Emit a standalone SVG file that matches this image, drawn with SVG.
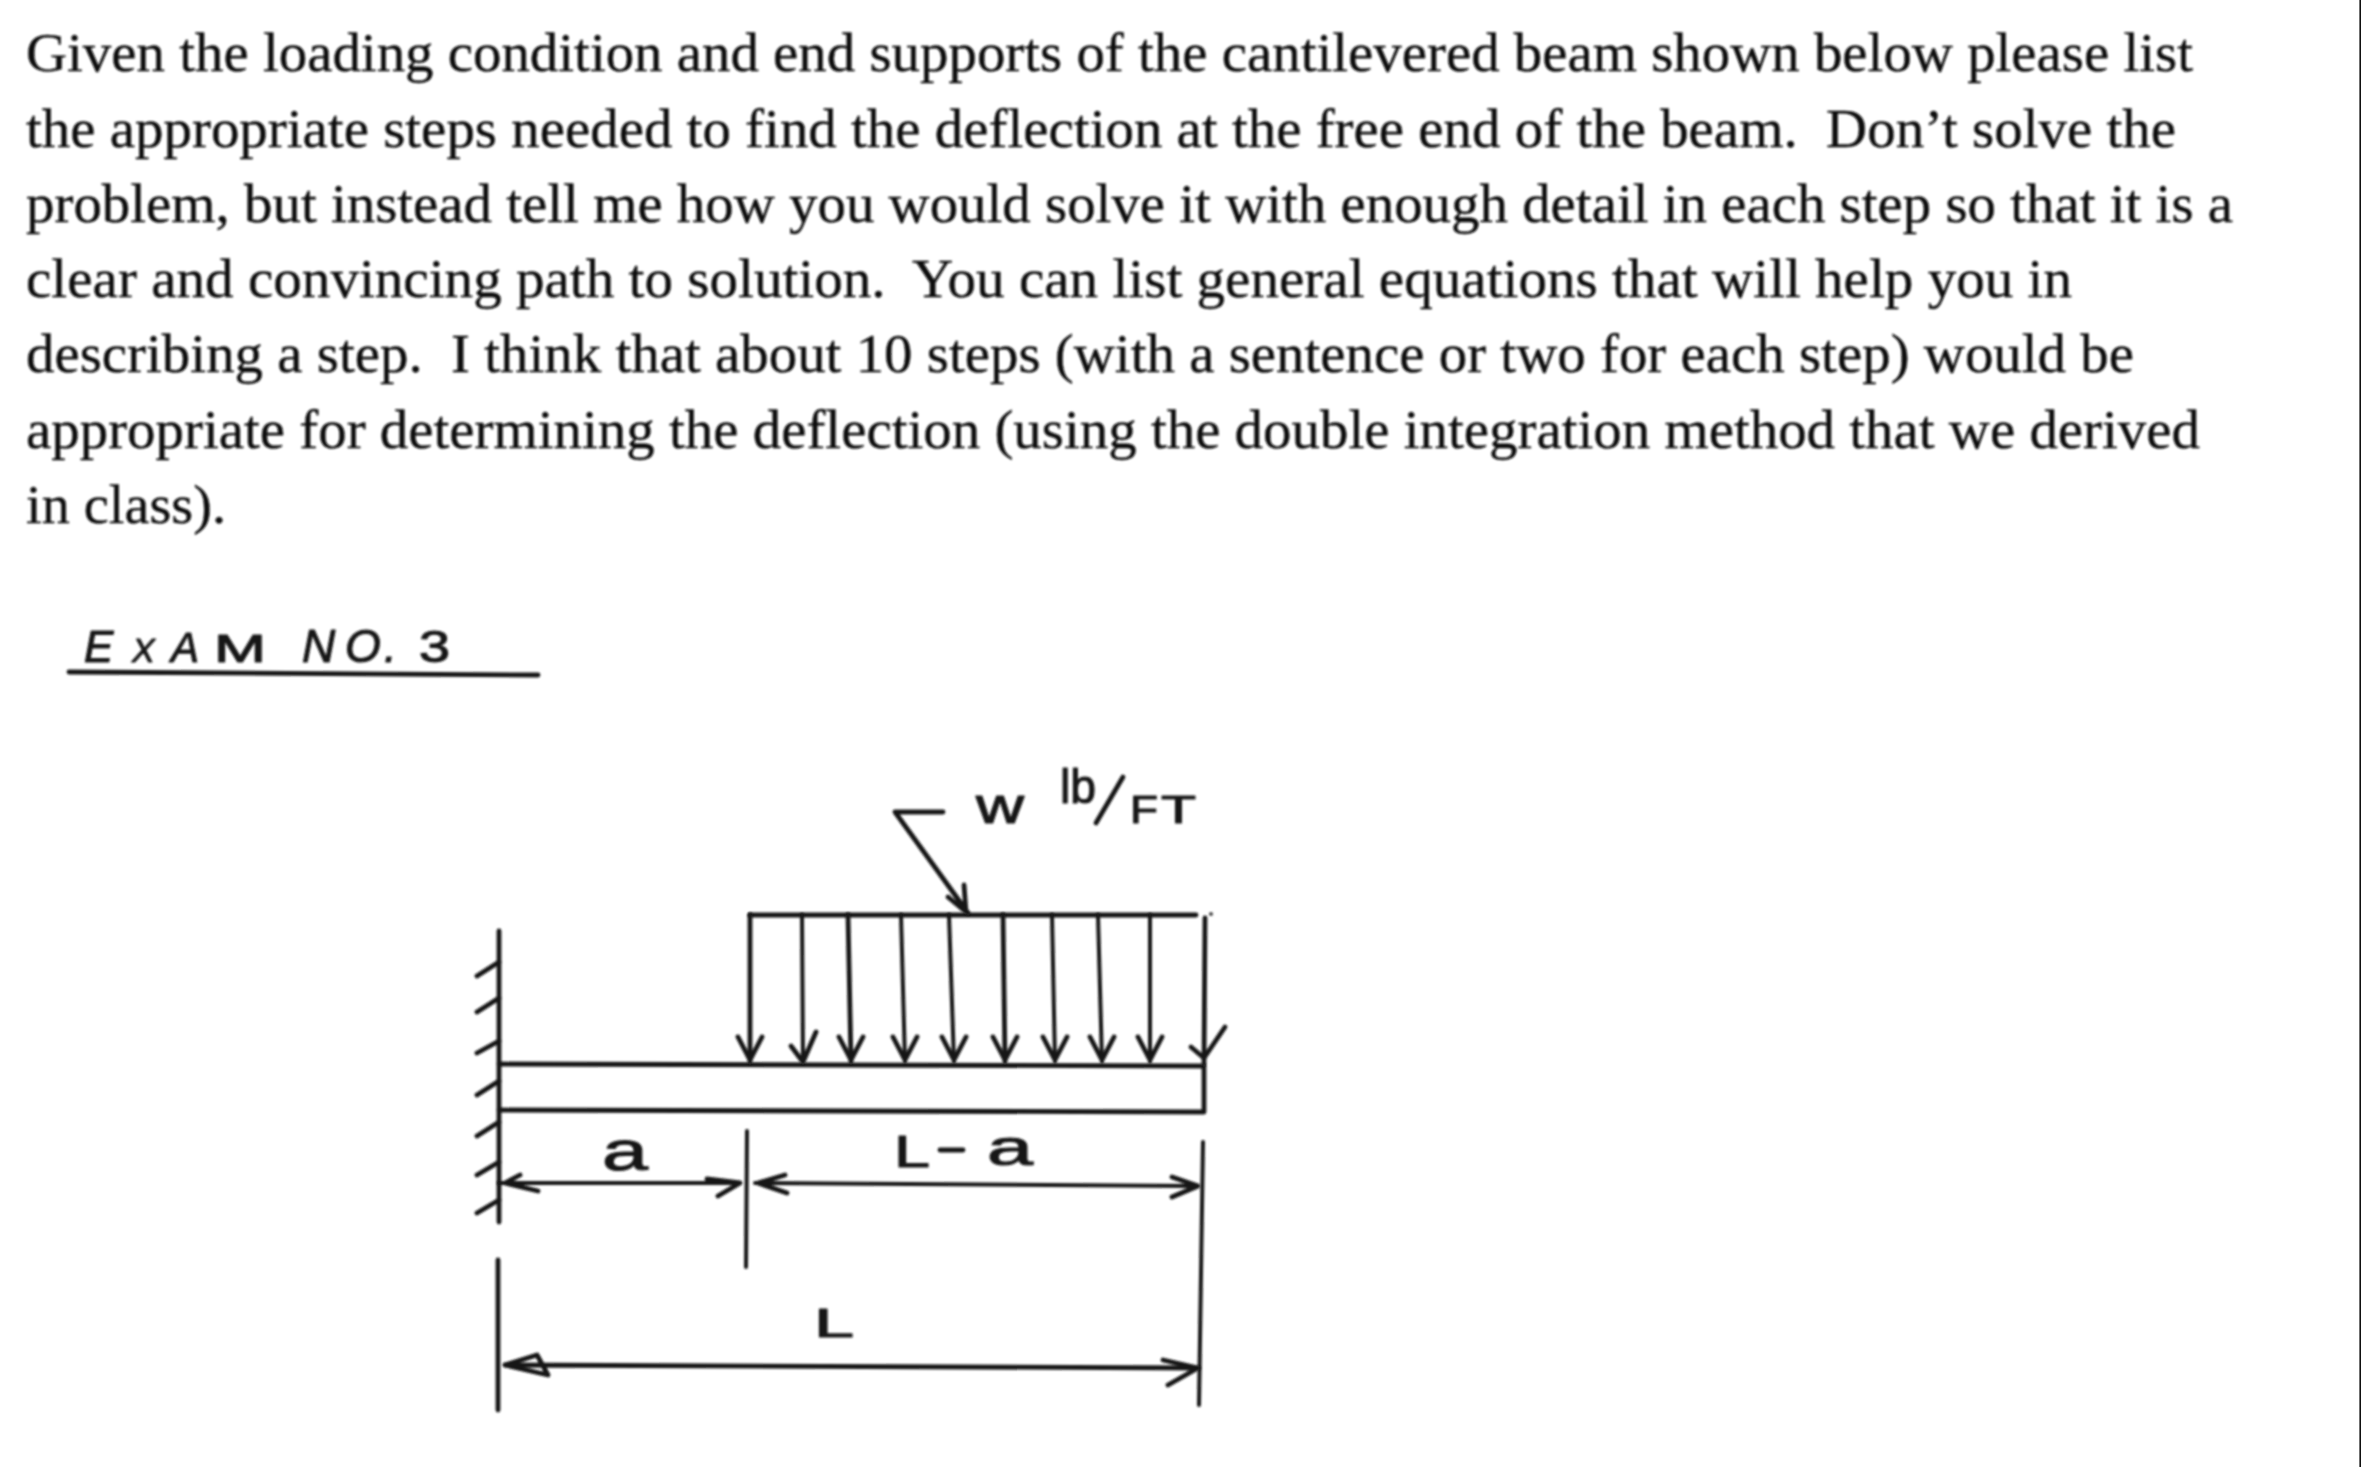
<svg xmlns="http://www.w3.org/2000/svg" width="2361" height="1467" viewBox="0 0 2361 1467">
<style>
.body{font-family:"Liberation Serif","Times New Roman",serif;font-size:55px;fill:#0e0e0e;stroke:#0e0e0e;stroke-width:.35;white-space:pre}
.hand{font-family:"Liberation Sans",Arial,sans-serif;fill:#161616;stroke:#161616;stroke-width:1.1;stroke-linejoin:round}
.ln{fill:none;stroke:#161616;stroke-width:4.8;stroke-linecap:round;stroke-linejoin:round}
.thin{stroke-width:4}
</style>
<defs>
<filter id="soft" x="-2%" y="-2%" width="104%" height="104%"><feGaussianBlur stdDeviation="0.9"/></filter>
<path id="ah" class="ln" d="M-12,-25 L0,-2 L12,-25"/>
</defs>
<rect width="2361" height="1467" fill="#ffffff"/>
<rect id="right-edge" x="2359.4" y="0" width="1.6" height="1467" fill="#111111"/>
<g filter="url(#soft)">
<g id="question">
<text class="body" x="26" y="71" textLength="2167" lengthAdjust="spacingAndGlyphs">Given the loading condition and end supports of the cantilevered beam shown below please list</text>
<text class="body" x="26" y="147" textLength="2150" lengthAdjust="spacingAndGlyphs">the appropriate steps needed to find the deflection at the free end of the beam.  Don’t solve the</text>
<text class="body" x="26" y="222" textLength="2207" lengthAdjust="spacingAndGlyphs">problem, but instead tell me how you would solve it with enough detail in each step so that it is a</text>
<text class="body" x="26" y="297" textLength="2046" lengthAdjust="spacingAndGlyphs">clear and convincing path to solution.  You can list general equations that will help you in</text>
<text class="body" x="26" y="372" textLength="2108" lengthAdjust="spacingAndGlyphs">describing a step.  I think that about 10 steps (with a sentence or two for each step) would be</text>
<text class="body" x="26" y="448" textLength="2174" lengthAdjust="spacingAndGlyphs">appropriate for determining the deflection (using the double integration method that we derived</text>
<text class="body" x="26" y="523" textLength="200" lengthAdjust="spacingAndGlyphs">in class).</text>
</g>
<g id="exam-title">
<text class="hand" font-style="italic" font-size="44" y="662"><tspan x="84">E</tspan><tspan x="132" font-size="34">X</tspan><tspan x="171" font-size="42">A</tspan></text>
<text class="hand" font-size="38" x="214" y="662" textLength="52" lengthAdjust="spacingAndGlyphs">M</text>
<text class="hand" font-style="italic" font-size="46" y="662"><tspan x="302">N</tspan><tspan x="345">O</tspan><tspan x="384">.</tspan></text>
<text class="hand" font-size="44" x="419" y="662" textLength="31" lengthAdjust="spacingAndGlyphs">3</text>
<path class="ln" d="M69,672 Q300,673 538,675"/>
</g>
<g id="beam">
<path class="ln" d="M499,1064 L1204,1066 L1204,1112 L499,1110"/>
</g>
<g id="wall">
<path class="ln" d="M499,931 L499,1222"/>
<path class="ln" d="M477,976 L499,962 M477,1012 L499,998 M477,1053 L499,1041 M477,1095 L499,1081 M477,1136 L499,1122 M477,1175 L499,1162 M477,1213 L499,1200"/>
</g>
<g id="load">
<path class="ln" d="M750,915 L1196,915"/>
<circle cx="1211" cy="914" r="2" fill="#444"/>
<text class="hand" font-size="50" x="976" y="823" textLength="48" lengthAdjust="spacingAndGlyphs">w</text>
<text class="hand" font-size="48" x="1060" y="803" textLength="36" lengthAdjust="spacingAndGlyphs">lb</text>
<path class="ln" d="M1123,777 L1096,823"/>
<text class="hand" font-size="38" x="1130" y="823" textLength="28" lengthAdjust="spacingAndGlyphs">F</text>
<text class="hand" font-size="38" x="1161" y="823" textLength="35" lengthAdjust="spacingAndGlyphs">T</text>
</g>
<g id="dimensions">
<path class="ln thin" d="M747,1131 L746,1267"/>
<path class="ln thin" d="M1203,1142 L1199,1405"/>
<path class="ln" d="M498,1260 L498,1410"/>
<text class="hand" font-size="56" x="602" y="1170" textLength="46" lengthAdjust="spacingAndGlyphs">a</text>
<text class="hand" font-size="44" x="894" y="1167" textLength="36" lengthAdjust="spacingAndGlyphs">L</text>
<path class="ln" d="M940,1150 L963,1150"/>
<text class="hand" font-size="50" x="987" y="1165" textLength="46" lengthAdjust="spacingAndGlyphs">a</text>
<text class="hand" font-size="40" x="814" y="1337" textLength="40" lengthAdjust="spacingAndGlyphs">L</text>
</g>
</g>
<g id="connectors" filter="url(#soft)">
<path class="ln" d="M895,812 L943,812 M895,812 L968,913 M964,885 L966,912 L948,897"/>
<path class="ln" d="M750,915 L750,1062"/>
<use href="#ah" x="750" y="1062"/>
<path class="ln thin" d="M802,915 L803,1062"/>
<path class="ln" d="M791,1046 L803,1062 L816,1032"/>
<path class="ln" d="M848,915 L851,1062"/>
<use href="#ah" x="851" y="1062"/>
<path class="ln thin" d="M901,915 L905,1062"/>
<use href="#ah" x="905" y="1062"/>
<path class="ln thin" d="M949,915 L954,1062"/>
<use href="#ah" x="954" y="1062"/>
<path class="ln" d="M1003,915 L1005,1062"/>
<use href="#ah" x="1005" y="1062"/>
<path class="ln thin" d="M1052,915 L1055,1062"/>
<use href="#ah" x="1055" y="1062"/>
<path class="ln thin" d="M1098,915 L1102,1062"/>
<use href="#ah" x="1102" y="1062"/>
<path class="ln thin" d="M1150,915 L1150,1062"/>
<use href="#ah" x="1150" y="1062"/>
<path class="ln" d="M1205,918 L1204,1064"/>
<path class="ln" d="M1191,1047 L1204,1058 L1225,1027"/>
<path class="ln thin" d="M499,1183 L740,1183"/>
<path class="ln" d="M538,1191 L505,1183 L520,1175 M707,1179 L740,1183 L718,1196"/>
<path class="ln thin" d="M755,1183 L1196,1186"/>
<path class="ln" d="M785,1175 L758,1183 L787,1193 M1172,1177 L1198,1186 L1172,1197"/>
<path class="ln" d="M505,1365 L1198,1368"/>
<path class="ln" d="M537,1355 L505,1365 L548,1375 Z M1163,1360 L1198,1368 L1168,1385"/>
</g>
</svg>
